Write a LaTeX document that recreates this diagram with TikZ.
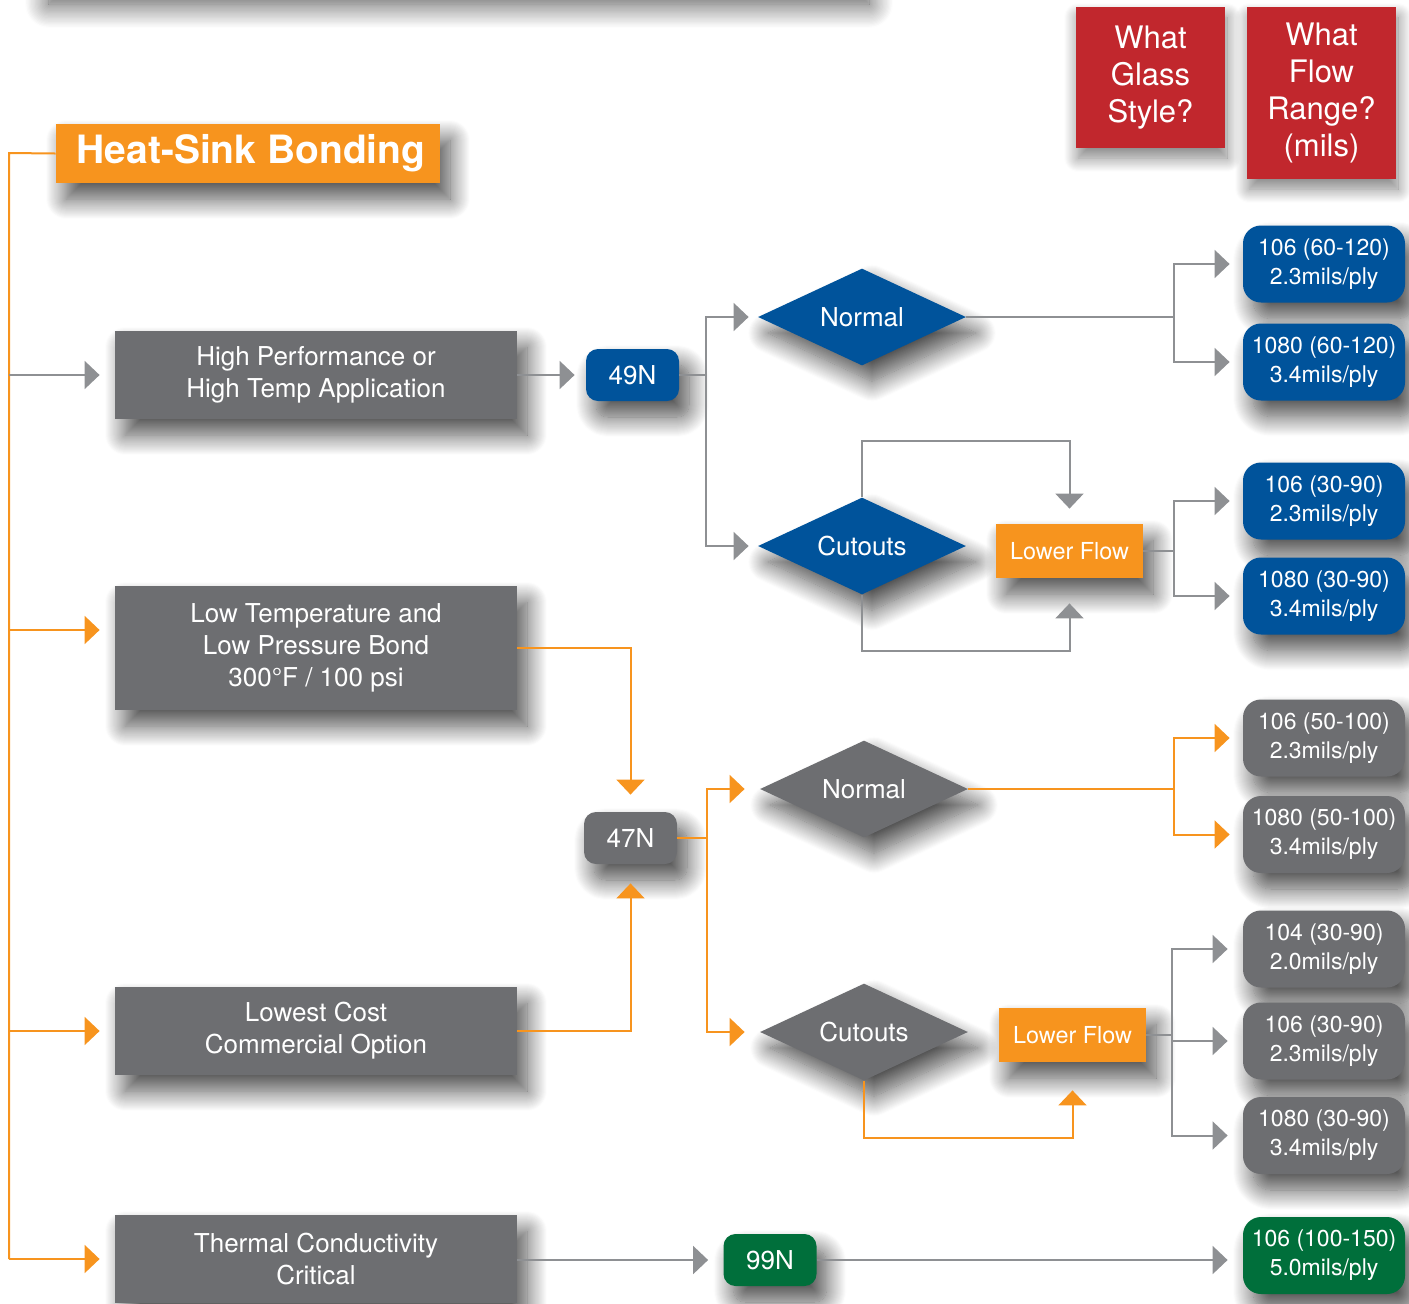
\documentclass[tikz,border=0pt]{standalone}
\usepackage{fontspec}
\setmainfont{TeX Gyre Heros}
\usepackage{tikz}
\usetikzlibrary{positioning,shapes.geometric,arrows.meta,shadows.blur}
\definecolor{hsBlue}{HTML}{00539B}
\definecolor{hsGray}{HTML}{6D6E71}
\definecolor{hsOrange}{HTML}{F7941E}
\definecolor{hsGreen}{HTML}{006F3B}
\definecolor{hsRed}{HTML}{C1272D}
\definecolor{hsLine}{HTML}{8E9093}

\begin{document}
\begin{tikzpicture}[x=0.5pt,y=-0.5pt,font=\fontsize{13}{16}\selectfont,
  shade/.style={blur shadow={shadow xshift=5pt,shadow yshift=-8pt,shadow blur radius=10pt,shadow blur steps=20,shadow opacity=70}}]
            \tikzstyle{grey box}=[rectangle,fill=hsGray,text=white,shade,minimum width=201pt,align=center,inner sep=0]
            \tikzstyle{code box}=[rectangle,rounded corners=6pt,text=white,shade,minimum width=46.5pt,minimum height=26pt]
            \tikzstyle{result box}=[rectangle,rounded corners=9pt,text=white,shade,minimum width=81pt,minimum height=38.5pt,inner sep=0,align=center,font=\fontsize{11.5}{14.5}\selectfont]
            \tikzstyle{choice}=[diamond,shape aspect=2.1,inner sep=0,minimum width=104pt,minimum height=48.5pt,text=white,shade]
            \tikzstyle{flow box}=[rectangle,fill=hsOrange,text=white,shade,minimum width=73.5pt,minimum height=27pt,font=\fontsize{11.7}{14}\selectfont]
            \tikzstyle{head box}=[rectangle,fill=hsRed,text=white,minimum width=74.5pt,align=center,font=\fontsize{15.5}{18.5}\selectfont,blur shadow={shadow xshift=1pt,shadow yshift=-5pt,shadow blur radius=7pt,shadow blur steps=16,shadow opacity=50}]
            \tikzstyle{gline}=[draw=hsLine,line width=1pt]
            \tikzstyle{oline}=[draw=hsOrange,line width=1pt]
            \tikzstyle{garrow}=[gline,-{Triangle[length=7.5pt,width=14pt]}]
            \tikzstyle{oarrow}=[oline,-{Triangle[length=7.5pt,width=14pt]}]
            \useasboundingbox (0,0) rectangle (1409,1303);
            \fill[white,blur shadow={shadow xshift=2pt,shadow yshift=-8pt,shadow blur radius=12pt,shadow blur steps=20,shadow opacity=70}] (45,-80) rectangle (865,-12);
            \node(hs)[fill=hsOrange,text=white,font=\fontsize{19.5}{22}\selectfont\bfseries,minimum width=192pt,minimum height=29.5pt,shade] at (248,153.5) {\hspace{3pt}Heat-Sink Bonding};
            \node(g)[head box,minimum height=70.5pt] at (1150.5,77.5) {What\\Glass\\Style?};
            \node(f)[head box,minimum height=86pt] at (1321.5,93) {What\\Flow\\Range?\\(mils)};
            \node(hp)[grey box,minimum height=44pt] at (316,375) {High Performance or\\High Temp Application};
            \node(lt)[grey box,minimum height=62pt] at (316,648) {Low Temperature and\\Low Pressure Bond\\300°F / 100 psi};
            \node(lc)[grey box,minimum height=44pt] at (316,1031) {Lowest Cost\\Commercial Option};
            \node(tc)[grey box,minimum height=44pt] at (316,1259) {Thermal Conductivity\\Critical};
            \node(49N)[code box,fill=hsBlue] at (632.5,375) {49N};
            \node(47N)[code box,fill=hsGray] at (630.5,838) {47N};
            \node(99N)[code box,fill=hsGreen] at (770,1260) {99N};
            \node(n1)[choice,fill=hsBlue] at (862,317) {Normal};
            \node(c1)[choice,fill=hsBlue] at (862,546) {Cutouts};
            \node(n2)[choice,fill=hsGray] at (864,789) {Normal};
            \node(c2)[choice,fill=hsGray] at (864,1032) {Cutouts};
            \node(lf1)[flow box] at (1069.5,551) {Lower Flow};
            \node(lf2)[flow box] at (1072.5,1035) {Lower Flow};
            \node(r1)[result box,fill=hsBlue] at (1324,264) {106 (60-120)\\2.3mils/ply};
            \node(r2)[result box,fill=hsBlue] at (1324,362) {1080 (60-120)\\3.4mils/ply};
            \node(r3)[result box,fill=hsBlue] at (1324,501) {106 (30-90)\\2.3mils/ply};
            \node(r4)[result box,fill=hsBlue] at (1324,596) {1080 (30-90)\\3.4mils/ply};
            \node(r5)[result box,fill=hsGray] at (1324,738) {106 (50-100)\\2.3mils/ply};
            \node(r6)[result box,fill=hsGray] at (1324,834.5) {1080 (50-100)\\3.4mils/ply};
            \node(r7)[result box,fill=hsGray] at (1324,949) {104 (30-90)\\2.0mils/ply};
            \node(r8)[result box,fill=hsGray] at (1324,1041) {106 (30-90)\\2.3mils/ply};
            \node(r9)[result box,fill=hsGray] at (1324,1135.5) {1080 (30-90)\\3.4mils/ply};
            \node(r10)[result box,fill=hsGreen] at (1324,1255.5) {106 (100-150)\\5.0mils/ply};
            \coordinate(b0) at (9,153);
            \path (lt.west) ++(0,-18) coordinate(ltin);
            \draw[oline] (hs.west) -- (b0) -- (b0 |- tc.west);
            \draw[garrow,shorten >=7.5pt] (b0 |- hp.west) -- (hp.west);
            \draw[oarrow,shorten >=7.5pt] (b0 |- ltin) -- (ltin);
            \draw[oarrow,shorten >=7.5pt] (b0 |- lc.west) -- (lc.west);
            \draw[oarrow,shorten >=7.5pt] (b0 |- tc.west) -- (tc.west);
            \draw[garrow,shorten >=5.5pt] (hp.east) -- (49N.west);
            \draw[gline] (49N.east) -- ++(27,0) coordinate(b1);
            \draw[garrow,shorten >=4.5pt] (b1) |- (n1.west);
            \draw[garrow,shorten >=4.5pt] (b1) |- (c1.west);
            \draw[gline] (n1.east) -- ++(208,0) coordinate(b2);
            \draw[garrow,shorten >=6.5pt] (b2) |- (r1.west);
            \draw[garrow,shorten >=6.5pt] (b2) |- (r2.west);
            \draw[garrow,shorten >=7.5pt] (c1.north) -- ++(0,-56) -| (lf1.north);
            \draw[garrow,shorten >=12.5pt] (c1.south) -- ++(0,56) -| (lf1.south);
            \draw[gline] (lf1.east) -- ++(31,0) coordinate(b3);
            \draw[garrow,shorten >=6.5pt] (b3) |- (r3.west);
            \draw[garrow,shorten >=6.5pt] (b3) |- (r4.west);
            \draw[oarrow,shorten >=8.5pt] (lt.east) -| (47N.north);
            \draw[oarrow,shorten >=9.5pt] (lc.east) -| (47N.south);
            \draw[oline] (47N.east) -- ++(30,0) coordinate(b4);
            \draw[oarrow,shorten >=7.5pt] (b4) |- (n2.west);
            \draw[oarrow,shorten >=7.5pt] (b4) |- (c2.west);
            \draw[oline] (n2.east) -- ++(206,0) coordinate(b5);
            \draw[oarrow,shorten >=6.5pt] (b5) |- (r5.west);
            \draw[oarrow,shorten >=6.5pt] (b5) |- (r6.west);
            \draw[oarrow,shorten >=14pt] (c2.south) -- ++(0,57) -| (lf2.south);
            \draw[gline] (lf2.east) -- ++(26,0) coordinate(b6);
            \draw[garrow,shorten >=7.5pt] (b6) |- (r7.west);
            \draw[garrow,shorten >=7.5pt] (b6) |- (r8.west);
            \draw[garrow,shorten >=7.5pt] (b6) |- (r9.west);
            \draw[garrow,shorten >=7.5pt] (tc.east |- 99N.west) -- (99N.west);
            \draw[garrow,shorten >=7.5pt] (99N.east) -- (99N.east -| r10.west);
          \end{tikzpicture}
\end{document}
